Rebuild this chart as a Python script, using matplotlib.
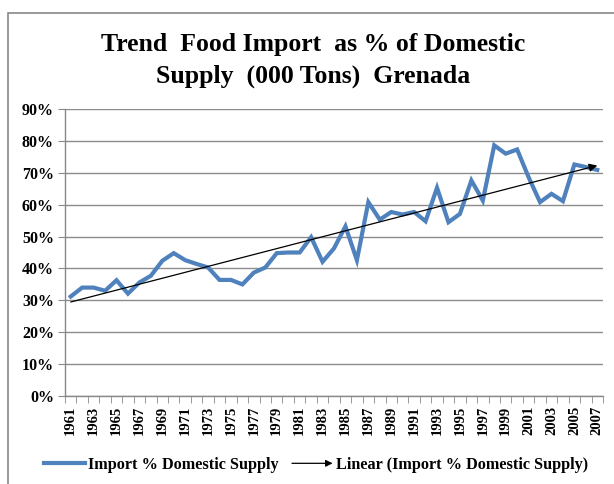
import matplotlib.pyplot as plt
import numpy as np
from matplotlib.legend_handler import HandlerBase
from matplotlib.patches import FancyArrowPatch, Rectangle
from matplotlib.lines import Line2D

years = list(range(1961, 2008))
import_pct = [31.2, 34.0, 34.0, 33.0, 36.3, 32.1, 35.6, 37.7, 42.4, 44.8,
              42.6, 41.4, 40.3, 36.4, 36.4, 35.0, 38.7, 40.3, 44.8, 45.0,
              45.0, 49.8, 42.1, 46.3, 53.2, 42.6, 60.8, 55.3, 57.7, 56.9,
              57.7, 54.8, 65.3, 54.5, 57.1, 67.6, 61.3, 78.6, 76.0, 77.3,
              68.6, 60.8, 63.4, 61.1, 72.6, 71.8, 70.9]
year_labels = [str(y) for y in years[::2]]

plt.rcParams['font.family'] = 'Liberation Serif'
plt.rcParams['font.weight'] = 'bold'

fig = plt.figure(figsize=(6.14, 4.84), dpi=100)
ax = fig.add_axes([65/614, 1-396/484, (603-65)/614, (396-109)/484])

# chart border
fig.patches.append(Rectangle((8/614, -0.1), 1.2, 1.1 - 13/484, transform=fig.transFigure,
                             fill=False, edgecolor='#888888', lw=1.2))

x = np.array(years)
y = np.array(import_pct)
ax.plot(x, y, color='#4F81BD', lw=3, solid_joinstyle='miter', zorder=3)

# linear trend
k, b = np.polyfit(x, y, 1)
ax.annotate('', xy=(x[-1], k*x[-1]+b), xytext=(x[0], k*x[0]+b),
            arrowprops=dict(arrowstyle='-|>', color='black', lw=0.9,
                            mutation_scale=12, shrinkA=0, shrinkB=0), zorder=4)

ax.set_xlim(1960.5, 2007.5)
ax.set_ylim(0, 90)
ax.set_yticks(np.arange(0, 91, 10))
ax.set_yticklabels([f'{v}%' for v in range(0, 91, 10)], fontsize=11.5, fontweight='bold')
ax.set_xticks(years[::2])
ax.set_xticklabels(year_labels, rotation=90, fontsize=10.5, fontweight='bold')
ax.set_xticks(np.arange(1960.5, 2008, 1), minor=True)
ax.tick_params(axis='x', which='major', length=0, pad=7)
ax.tick_params(axis='x', which='minor', length=5, color='#888888')
ax.tick_params(axis='y', length=5, color='#888888', pad=3)

ax.grid(axis='y', color='#8c8c8c', lw=1)
ax.set_axisbelow(True)
for s in ['top', 'right']:
    ax.spines[s].set_visible(False)
for s in ['left', 'bottom']:
    ax.spines[s].set_color('#888888')
    ax.spines[s].set_linewidth(1)

fig.text(0.51, 1-45/484, 'Trend  Food Import  as % of Domestic', ha='center', va='center',
         fontsize=18.5, fontweight='bold')
fig.text(0.51, 1-76/484, 'Supply  (000 Tons)  Grenada', ha='center', va='center',
         fontsize=18.5, fontweight='bold')


class ArrowHandler(HandlerBase):
    def create_artists(self, legend, orig_handle, xdescent, ydescent, width, height, fontsize, trans):
        a = FancyArrowPatch((-xdescent, height/2 - ydescent), (width - xdescent, height/2 - ydescent),
                            arrowstyle='-|>', mutation_scale=10, color='black', lw=0.9,
                            shrinkA=0, shrinkB=0, transform=trans)
        return [a]


h1 = Line2D([], [], color='#4F81BD', lw=3)
h2 = Line2D([], [], color='black')
fig.legend([h1, h2], ['Import % Domestic Supply', 'Linear (Import % Domestic Supply)'],
           handler_map={h2: ArrowHandler()}, loc='center', bbox_to_anchor=(0.515, 1-465/484),
           ncol=2, frameon=False, handlelength=2.5, handletextpad=0.2,
           columnspacing=0.8, prop={'weight': 'bold', 'size': 11.7})

fig.savefig('out.png', dpi=100)
